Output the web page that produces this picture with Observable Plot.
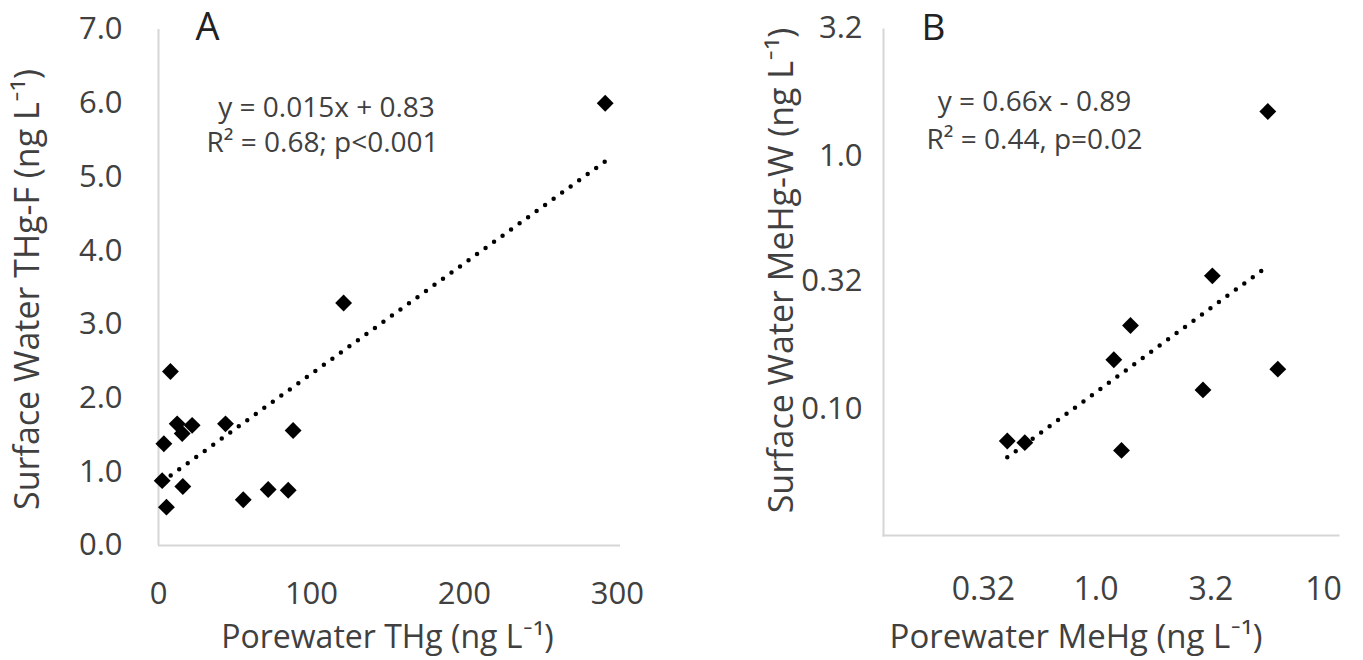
<!DOCTYPE html>
<html><head><meta charset="utf-8">
<script src="https://cdn.jsdelivr.net/npm/d3@7"></script>
<script src="https://cdn.jsdelivr.net/npm/@observablehq/plot@0.6"></script>
<style>
body{margin:0;background:#fff;}
#wrap{position:relative;width:1363px;height:660px;overflow:hidden;background:#fff;}
#a,#b{position:absolute;top:0;}
#a{left:0px}
#b{left:680px}
</style></head><body><div id="wrap"><div id="a"></div><div id="b"></div></div>
<script>
// Panel A: porewater THg (x) vs surface water THg-F (y), ng/L
const thgPore    = [2.4, 5.2, 3.5, 7.8, 12.2, 15.5, 22, 15.9, 43.8, 55.4, 71.7, 84.8, 88, 121, 292];
const thgSurface = [0.88, 0.52, 1.38, 2.36, 1.65, 1.52, 1.63, 0.80, 1.65, 0.62, 0.76, 0.75, 1.56, 3.29, 6.0];
const trendAx = [2.4, 292];
const trendAy = [0.866, 5.21];
const xTicksA = [0, 100, 200, 300];
const yTicksA = [0, 1, 2, 3, 4, 5, 6, 7];
const eqA = ["y = 0.015x + 0.83", "R² = 0.68; p<0.001"];

// Panel B: porewater MeHg (x) vs surface water MeHg-W (y), ng/L, log-log
const mehgPore    = [0.35, 0.418, 1.029, 1.218, 1.112, 2.537, 2.79, 4.89, 5.41];
const mehgSurface = [0.0747, 0.0736, 0.1565, 0.2138, 0.0686, 0.119, 0.336, 1.50, 0.1437];
const trendBx = [0.35, 4.89];
const trendBy = [0.0644, 0.367];
const xTicksB = [0.32, 1.0, 3.2, 10];
const xTickLabelsB = ["0.32", "1.0", "3.2", "10"];
const yTicksB = [0.10, 0.32, 1.0, 3.2];
const yTickLabelsB = ["0.10", "0.32", "1.0", "3.2"];
const eqB = ["y = 0.66x - 0.89", "R² = 0.44, p=0.02"];

const FONT = "'Open Sans', Lato, sans-serif";
const TXT = "#404040";
const AXIS = "#d6d6d6";

const ptsA = thgPore.map((x, i) => ({x, y: thgSurface[i]}));
const lineA = trendAx.map((x, i) => ({x, y: trendAy[i]}));
const ptsB = mehgPore.map((x, i) => ({x, y: mehgSurface[i]}));
const lineB = trendBx.map((x, i) => ({x, y: trendBy[i]}));

const dotted = {stroke: "#000", strokeWidth: 4.5, strokeDasharray: "0 10.5", strokeLinecap: "round"};
const diamond = {symbol: "diamond2", r: 7.6, fill: "#000", stroke: "none"};
const mid = {textAnchor: "middle", lineAnchor: "middle"};

const plotA = Plot.plot({
  width: 680, height: 660,
  marginLeft: 158, marginRight: 60, marginTop: 29, marginBottom: 115,
  style: {fontFamily: FONT, background: "#fff", overflow: "visible"},
  x: {domain: [0, 302], ticks: xTicksA},
  y: {domain: [0, 7], ticks: yTicksA},
  marks: [
    Plot.ruleY([0], {stroke: AXIS, strokeWidth: 2}),
    Plot.ruleX([0], {stroke: AXIS, strokeWidth: 2}),
    Plot.axisX({ticks: xTicksA, tickSize: 0, tickPadding: 36, fontSize: 31, color: TXT, label: null, tickFormat: d3.format("d")}),
    Plot.axisY({ticks: yTicksA, tickSize: 0, tickPadding: 36, fontSize: 31, color: TXT, label: null, tickFormat: d3.format(".1f")}),
    Plot.line(lineA, {x: "x", y: "y", ...dotted}),
    Plot.dot(ptsA, {x: "x", y: "y", ...diamond}),
    Plot.text(["Porewater THg (ng L⁻¹)"], {frameAnchor: "bottom", ...mid, dx: -2, dy: 92, fontSize: 32, fill: TXT}),
    Plot.text(["Surface Water THg-F (ng L⁻¹)"], {frameAnchor: "left", ...mid, dx: -130, dy: 2, rotate: -90, fontSize: 34, fill: TXT}),
    Plot.text(["A"], {frameAnchor: "top-left", ...mid, dx: 49, dy: -2, fontSize: 38, fill: "#222"}),
    Plot.text([eqA[0]], {frameAnchor: "top-left", ...mid, dx: 168, dy: 79, fontSize: 28, fill: TXT}),
    Plot.text([eqA[1]], {frameAnchor: "top-left", ...mid, dx: 164, dy: 114, fontSize: 28, fill: TXT})
  ]
});
document.getElementById("a").appendChild(plotA);

const plotB = Plot.plot({
  width: 683, height: 660,
  marginLeft: 203, marginRight: 25, marginTop: 29, marginBottom: 125,
  style: {fontFamily: FONT, background: "#fff", overflow: "visible"},
  x: {type: "log", domain: [0.1, 10]},
  y: {type: "log", domain: [Math.pow(10, -1.5), Math.pow(10, 0.5)]},
  marks: [
    Plot.frame({anchor: "bottom", stroke: AXIS, strokeWidth: 2}),
    Plot.frame({anchor: "left", stroke: AXIS, strokeWidth: 2}),
    Plot.axisX({ticks: xTicksB, tickSize: 0, tickPadding: 42, dx: -15, fontSize: 32, color: TXT, label: null,
      tickFormat: d => xTickLabelsB[xTicksB.indexOf(d)]}),
    Plot.axisY({ticks: yTicksB, tickSize: 0, tickPadding: 21, fontSize: 31, color: TXT, label: null,
      tickFormat: d => yTickLabelsB[yTicksB.indexOf(d)]}),
    Plot.line(lineB, {x: "x", y: "y", ...dotted}),
    Plot.dot(ptsB, {x: "x", y: "y", ...diamond}),
    Plot.text(["Porewater MeHg (ng L⁻¹)"], {frameAnchor: "bottom", ...mid, dx: -35, dy: 102, fontSize: 33, fill: TXT}),
    Plot.text(["Surface Water MeHg-W (ng L⁻¹)"], {frameAnchor: "left", ...mid, dx: -101, dy: -12, rotate: -90, fontSize: 34, fill: TXT}),
    Plot.text(["B"], {frameAnchor: "top-left", ...mid, dx: 50, dy: -1, fontSize: 37, fill: "#222"}),
    Plot.text([eqB[0]], {frameAnchor: "top-left", ...mid, dx: 151, dy: 73, fontSize: 28, fill: TXT}),
    Plot.text([eqB[1]], {frameAnchor: "top-left", ...mid, dx: 151, dy: 111, fontSize: 28, fill: TXT})
  ]
});
document.getElementById("b").appendChild(plotB);
</script></body></html>
